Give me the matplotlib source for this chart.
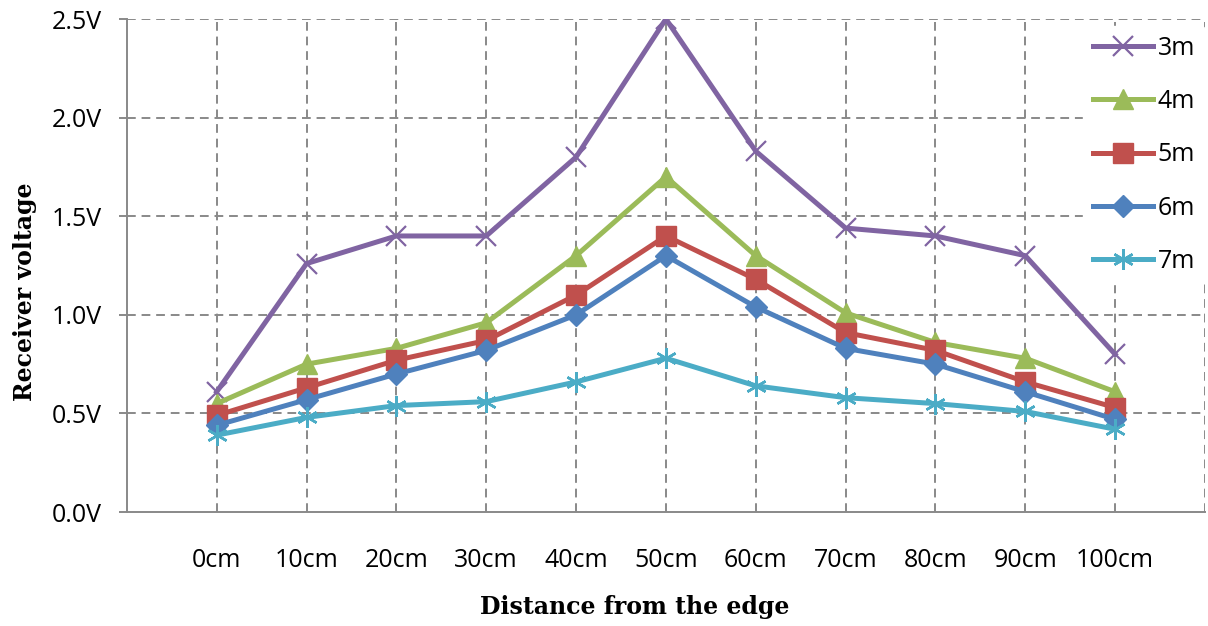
import matplotlib.pyplot as plt
import numpy as np

# distance from the edge (category labels)
distances = ["0cm", "10cm", "20cm", "30cm", "40cm", "50cm",
             "60cm", "70cm", "80cm", "90cm", "100cm"]

# receiver voltage [V] per receiver height
v_3m = [0.61, 1.26, 1.40, 1.40, 1.80, 2.50, 1.83, 1.44, 1.40, 1.30, 0.80]
v_4m = [0.55, 0.75, 0.83, 0.96, 1.30, 1.70, 1.30, 1.01, 0.86, 0.78, 0.61]
v_5m = [0.49, 0.63, 0.77, 0.87, 1.10, 1.40, 1.18, 0.91, 0.82, 0.66, 0.53]
v_6m = [0.44, 0.57, 0.70, 0.82, 1.00, 1.30, 1.04, 0.83, 0.75, 0.61, 0.47]
v_7m = [0.39, 0.48, 0.54, 0.56, 0.66, 0.78, 0.64, 0.58, 0.55, 0.51, 0.42]

series = [
    ("3m", v_3m, "#8064A2", "x", 14, 1.6),
    ("4m", v_4m, "#9BBB59", "^", 15, 1.0),
    ("5m", v_5m, "#C0504D", "s", 14, 1.0),
    ("6m", v_6m, "#4F81BD", "D", 11, 1.0),
    ("7m", v_7m, "#4BACC6", (6, 2, 0), 15, 1.8),
]

plt.rcParams["font.family"] = "Open Sans"

fig = plt.figure(figsize=(12.08, 6.26), dpi=100)
ax = fig.add_axes([0.105, 0.182, 0.8925, 0.7876])

x = np.arange(len(distances))
for label, vals, color, marker, ms, mew in series:
    ax.plot(x, vals, color=color, lw=3.6, marker=marker, markersize=ms,
            markeredgewidth=mew, markeredgecolor=color, markerfacecolor=color,
            label=label, zorder=3)

ax.set_xlim(-1, 11)
ax.set_ylim(0, 2.5)
ax.set_yticks(np.arange(0, 2.51, 0.5))
ax.set_yticklabels([f"{v:.1f}V" for v in np.arange(0, 2.51, 0.5)], fontsize=18)
ax.set_xticks(x)
ax.set_xticklabels(distances, fontsize=18)

# dashed grid at each category plus the right border
grid_kw = dict(color="#898989", lw=1.4, ls=(0, (4.5, 3)), zorder=1)
for xv in range(0, 12):
    ax.axvline(xv, **grid_kw)
for yv in np.arange(0.5, 2.51, 0.5):
    ax.axhline(yv, **grid_kw)

for side in ["top", "right"]:
    ax.spines[side].set_visible(False)
for side in ["left", "bottom"]:
    ax.spines[side].set_color("#898989")
    ax.spines[side].set_linewidth(1.4)

ax.tick_params(axis="y", direction="out", length=6, width=1.4,
               color="#898989", pad=12)
ax.tick_params(axis="x", length=0, pad=26)

ax.set_xlabel("Distance from the edge", fontsize=17, fontweight="bold",
              family="DejaVu Serif")
ax.set_ylabel("Receiver voltage", fontsize=17, fontweight="bold",
              family="DejaVu Serif")
ax.xaxis.set_label_coords(0.471, -0.168)
ax.yaxis.set_label_coords(-0.0835, 0.446)

leg = ax.legend(loc="upper right", bbox_to_anchor=(1.0, 0.986), fontsize=18,
                handlelength=2.4, labelspacing=1.13, handletextpad=0.2,
                frameon=True, facecolor="white", edgecolor="white",
                framealpha=1.0, borderpad=0.4, borderaxespad=0.0)
leg.set_zorder(5)

fig.savefig("out.png", dpi=100)
